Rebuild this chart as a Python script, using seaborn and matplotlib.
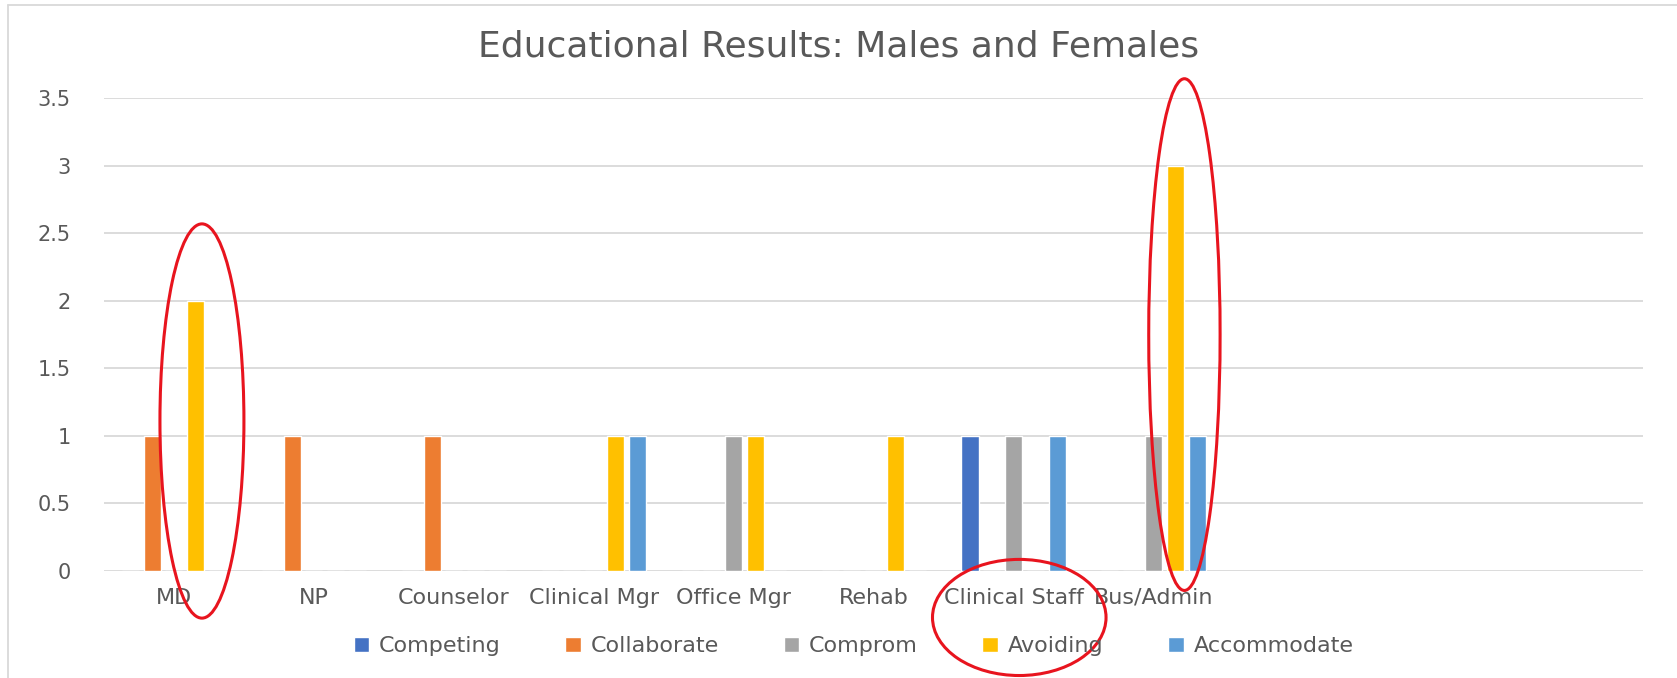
import matplotlib
matplotlib.use("Agg")
import matplotlib.pyplot as plt
from matplotlib.patches import Ellipse
import seaborn as sns
import pandas as pd

# chart values
categories = ["MD", "NP", "Counselor", "Clinical Mgr", "Office Mgr",
              "Rehab", "Clinical Staff", "Bus/Admin"]
styles = ["Competing", "Collaborate", "Comprom", "Avoiding", "Accommodate"]
competing = [0, 0, 0, 0, 0, 0, 1, 0]
collaborate = [1, 1, 1, 0, 0, 0, 0, 0]
comprom = [0, 0, 0, 0, 1, 0, 1, 1]
avoiding = [2, 0, 0, 1, 1, 1, 0, 3]
accommodate = [0, 0, 0, 1, 0, 0, 1, 1]
yticks = [0, 0.5, 1, 1.5, 2, 2.5, 3, 3.5]
ytick_labels = ["0", "0.5", "1", "1.5", "2", "2.5", "3", "3.5"]
n_slots = 11  # excel axis has 3 empty categories at the end

colors = ["#4472C4", "#ED7D31", "#A5A5A5", "#FFC000", "#5B9BD5"]
grey_text = "#595959"

rows = []
for s, vals in zip(styles, [competing, collaborate, comprom, avoiding, accommodate]):
    for c, v in zip(categories, vals):
        rows.append({"category": c, "style": s, "value": v})
df = pd.DataFrame(rows)

sns.set_theme(style="white")
plt.rcParams["font.family"] = ["DejaVu Sans"]

fig = plt.figure(figsize=(16.77, 6.78), dpi=100)
ax = fig.add_axes([0.062, 0.158, 0.918, 0.697])

sns.barplot(data=df, x="category", y="value", hue="style", order=categories,
            hue_order=styles, palette=colors, width=0.78, gap=0.22,
            saturation=1, errorbar=None, ax=ax)

ax.set_xlim(-0.5, n_slots - 0.5)
ax.set_ylim(0, 3.5)
ax.set_yticks(yticks)
ax.set_yticklabels(ytick_labels)
ax.yaxis.grid(True, color="#D9D9D9", linewidth=1.3)
ax.set_axisbelow(True)
for sp in ax.spines.values():
    sp.set_visible(False)
ax.set_xlabel("")
ax.set_ylabel("")
ax.tick_params(axis="x", length=0, pad=12, labelsize=16, labelcolor=grey_text)
ax.tick_params(axis="y", length=0, pad=24, labelsize=15, labelcolor=grey_text)

fig.text(0.5, 0.931, "Educational Results: Males and Females", ha="center",
         va="center", fontsize=26, color=grey_text)

handles, labels = ax.get_legend_handles_labels()
ax.legend_.remove()
fig.legend(handles, labels, loc="center", bbox_to_anchor=(0.509, 0.047), ncol=5,
           frameon=False, fontsize=16, labelcolor=grey_text, handlelength=0.7,
           handleheight=0.7, handletextpad=0.45, columnspacing=2.9)

# chart frame (screenshot shows top and left edges only)
fig.add_artist(plt.Line2D([0.0045, 1], [0.992, 0.992], color="#D9D9D9", lw=1.3))
fig.add_artist(plt.Line2D([0.0045, 0.0045], [0, 0.992], color="#D9D9D9", lw=1.3))

# red hand-drawn circles (annotations)
marks = [(0.2, 1.11, 0.6, 2.92), (7.22, 1.75, 0.51, 3.79), (6.04, -0.345, 1.24, 0.86)]
for cx, cy, w, h in marks:
    ax.add_patch(Ellipse((cx, cy), w, h, fill=False, edgecolor="#E8141E",
                         lw=2.2, clip_on=False, zorder=5))

fig.savefig("out.png", dpi=100)
